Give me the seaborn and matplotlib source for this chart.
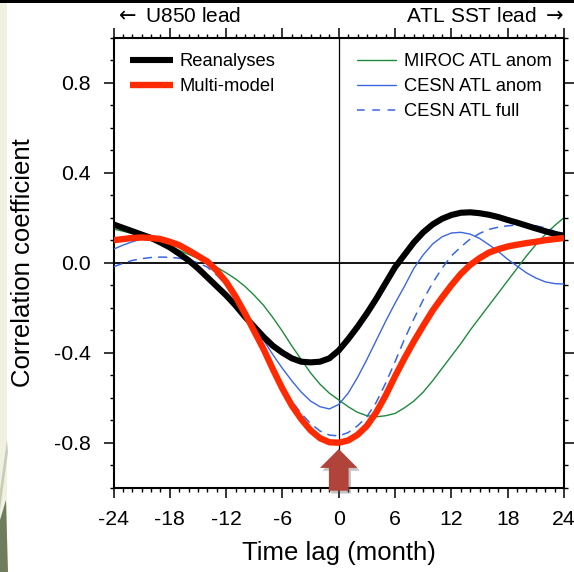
import matplotlib
matplotlib.use("Agg")
import matplotlib.pyplot as plt
import seaborn as sns
import pandas as pd
from matplotlib.ticker import MultipleLocator
from matplotlib.lines import Line2D
from matplotlib.patches import FancyArrow, Rectangle, Polygon

# ---------------- data ----------------
lags = list(range(-24, 25))

reanalyses = [0.17, 0.155, 0.14, 0.125, 0.11, 0.09, 0.068, 0.04, 0.01, -0.025,
              -0.065, -0.105, -0.145, -0.19, -0.24, -0.285, -0.33, -0.37, -0.40, -0.425,
              -0.44, -0.443, -0.44, -0.425, -0.39, -0.34, -0.285, -0.225, -0.16, -0.09,
              -0.02, 0.035, 0.09, 0.135, 0.17, 0.195, 0.212, 0.222, 0.224, 0.22,
              0.213, 0.203, 0.19, 0.178, 0.165, 0.152, 0.14, 0.128, 0.12]

multi_model = [0.10, 0.105, 0.11, 0.112, 0.11, 0.105, 0.093, 0.078, 0.055, 0.03,
               0.005, -0.035, -0.085, -0.15, -0.225, -0.305, -0.385, -0.475, -0.56, -0.635,
               -0.695, -0.745, -0.78, -0.798, -0.80, -0.79, -0.765, -0.725, -0.665, -0.59,
               -0.505, -0.425, -0.35, -0.28, -0.213, -0.155, -0.10, -0.05, -0.01, 0.02,
               0.045, 0.06, 0.072, 0.08, 0.087, 0.093, 0.10, 0.105, 0.11]

miroc_anom = [0.15, 0.14, 0.13, 0.118, 0.105, 0.09, 0.072, 0.055, 0.037, 0.02,
              0.003, -0.02, -0.045, -0.072, -0.105, -0.145, -0.19, -0.245, -0.305, -0.37,
              -0.43, -0.49, -0.54, -0.58, -0.61, -0.64, -0.665, -0.68, -0.685, -0.68,
              -0.67, -0.645, -0.615, -0.575, -0.525, -0.47, -0.415, -0.36, -0.30, -0.245,
              -0.19, -0.135, -0.08, -0.025, 0.03, 0.08, 0.125, 0.165, 0.20]

cesn_anom = [0.06, 0.078, 0.093, 0.105, 0.11, 0.108, 0.10, 0.085, 0.065, 0.04,
             0.01, -0.03, -0.085, -0.145, -0.21, -0.28, -0.345, -0.41, -0.47, -0.525,
             -0.575, -0.615, -0.64, -0.65, -0.63, -0.58, -0.51, -0.43, -0.345, -0.26,
             -0.18, -0.105, -0.025, 0.035, 0.083, 0.115, 0.132, 0.135, 0.127, 0.108,
             0.08, 0.05, 0.015, -0.015, -0.045, -0.068, -0.085, -0.093, -0.095]

cesn_full = [-0.018, -0.003, 0.01, 0.018, 0.023, 0.025, 0.024, 0.02, 0.012, 0.0,
             -0.02, -0.055, -0.10, -0.155, -0.225, -0.30, -0.38, -0.465, -0.545, -0.615,
             -0.67, -0.715, -0.748, -0.766, -0.77, -0.755, -0.725, -0.685, -0.62, -0.535,
             -0.44, -0.34, -0.25, -0.165, -0.09, -0.025, 0.03, 0.07, 0.105, 0.13,
             0.148, 0.158, 0.164, 0.167, 0.167, 0.164, 0.155, 0.14, 0.12]

series_names = ["Reanalyses", "Multi-model", "MIROC ATL anom", "CESN ATL anom", "CESN ATL full"]
x_ticks = [-24, -18, -12, -6, 0, 6, 12, 18, 24]
y_ticks = [-0.8, -0.4, 0.0, 0.4, 0.8]
y_tick_labels = ["-0.8", "-0.4", "0.0", "0.4", "0.8"]

# ---------------- style ----------------
sns.set_theme(style="ticks")
plt.rcParams["font.family"] = ["Liberation Sans", "DejaVu Sans"]
plt.rcParams["mathtext.fontset"] = "dejavusans"
plt.rcParams["text.color"] = "black"
plt.rcParams["axes.labelcolor"] = "black"
plt.rcParams["xtick.color"] = "black"
plt.rcParams["ytick.color"] = "black"

fig = plt.figure(figsize=(5.74, 5.72), dpi=100)
fig.patch.set_facecolor("white")

W, H = 574.0, 572.0
x0, x1, y0, y1 = 113.5, 564.0, 37.7, 487.7
ax = fig.add_axes([x0 / W, 1 - y1 / H, (x1 - x0) / W, (y1 - y0) / H])
ax.set_facecolor("white")

# background decorations of the slide
fig.add_artist(Rectangle((0, 0), 7 / W, 1 - 3 / H, transform=fig.transFigure,
                         facecolor="#f1f1e2", edgecolor="none", zorder=0))
fig.add_artist(Polygon([(0, 1 - 490 / H), (7 / W, 1 - 440 / H), (8 / W, 1 - 452 / H),
                        (0, 1 - 510 / H)], closed=True, transform=fig.transFigure,
                       facecolor="#c9cdb8", edgecolor="none", zorder=0))
fig.add_artist(Polygon([(0, 0), (0, 1 - 520 / H), (6 / W, 1 - 500 / H), (8 / W, 0)],
                       closed=True, transform=fig.transFigure,
                       facecolor="#6f7d5c", edgecolor="none", zorder=0))
fig.add_artist(Rectangle((0, 1 - 3 / H), 1, 3 / H, transform=fig.transFigure,
                         facecolor="black", edgecolor="none", zorder=5))

# zero lines
ax.axhline(0, color="black", lw=1.3, zorder=1)
ax.axvline(0, color="black", lw=0.9, zorder=1)

styles = {
    "MIROC ATL anom": dict(color="#1f8a3c", lw=1.0, dashes=None, z=2),
    "CESN ATL anom": dict(color="#3a66e0", lw=1.0, dashes=None, z=3),
    "CESN ATL full": dict(color="#3a66e0", lw=1.1, dashes=(6, 4), z=3),
    "Reanalyses": dict(color="black", lw=4.4, dashes=None, z=4),
    "Multi-model": dict(color="#ff2a00", lw=4.6, dashes=None, z=5),
}
values = {
    "Reanalyses": reanalyses,
    "Multi-model": multi_model,
    "MIROC ATL anom": miroc_anom,
    "CESN ATL anom": cesn_anom,
    "CESN ATL full": cesn_full,
}
for name in ["MIROC ATL anom", "CESN ATL anom", "CESN ATL full", "Reanalyses", "Multi-model"]:
    st = styles[name]
    df = pd.DataFrame({"lag": lags, "r": values[name]})
    sns.lineplot(data=df, x="lag", y="r", ax=ax, color=st["color"], lw=st["lw"],
                 zorder=st["z"], legend=False, solid_capstyle="butt")
    if st["dashes"] is not None:
        ax.lines[-1].set_dashes(st["dashes"])

ax.set_xlim(-24, 24)
ax.set_ylim(-1.0, 1.0)
ax.set_xticks(x_ticks)
ax.set_xticklabels([str(t) for t in x_ticks])
ax.set_yticks(y_ticks)
ax.set_yticklabels(y_tick_labels)
ax.xaxis.set_minor_locator(MultipleLocator(1))
ax.yaxis.set_minor_locator(MultipleLocator(0.1))
ax.tick_params(which="both", direction="out", top=True, right=True, bottom=True, left=True,
               labeltop=False, labelright=False, labelsize=15.3)
ax.tick_params(which="major", length=7.2, width=1.1)
ax.tick_params(axis="y", which="major", pad=9)
ax.tick_params(axis="x", which="major", pad=8.5)
ax.tick_params(which="minor", length=3.2, width=1.0)
for sp in ax.spines.values():
    sp.set_visible(True)
    sp.set_color("black")
    sp.set_linewidth(1.5)

ax.set_xlabel("Time lag (month)", fontsize=18.5, va="center")
ax.set_ylabel("Correlation coefficient", fontsize=18.5, va="center")
ax.xaxis.set_label_coords(0.5, -(553 - y1) / (y1 - y0))
ax.yaxis.set_label_coords((23 - x0) / (x1 - x0), 0.5)

# top annotations
ax.text(0.0, (y1 - 17) / (y1 - y0), r"$\leftarrow$ U850 lead", transform=ax.transAxes,
        ha="left", va="center", fontsize=15)
ax.text(1.0, (y1 - 17) / (y1 - y0), r"ATL SST lead $\rightarrow$", transform=ax.transAxes,
        ha="right", va="center", fontsize=15)

# legends
h1 = [Line2D([], [], color=styles[n]["color"], lw=styles[n]["lw"], solid_capstyle="butt")
      for n in series_names[:2]]
leg1 = ax.legend(h1, series_names[:2], loc="upper left",
                 bbox_to_anchor=((130 - x0) / (x1 - x0), (y1 - 53) / (y1 - y0)),
                 frameon=False, fontsize=13.2, borderpad=0, borderaxespad=0,
                 handlelength=2.35, handletextpad=0.35, labelspacing=0.45)
ax.add_artist(leg1)
h2 = []
for n in series_names[2:]:
    ln = Line2D([], [], color=styles[n]["color"], lw=styles[n]["lw"])
    if styles[n]["dashes"] is not None:
        ln.set_dashes((5, 5))
    h2.append(ln)
ax.legend(h2, series_names[2:], loc="upper left",
          bbox_to_anchor=((357 - x0) / (x1 - x0), (y1 - 53) / (y1 - y0)),
          frameon=False, fontsize=13.2, borderpad=0, borderaxespad=0,
          handlelength=2.1, handletextpad=0.45, labelspacing=0.45)

# red arrow pointing at lag 0
tr = ax.get_xaxis_transform()
shadow = FancyArrow(0.25, -0.013, 0, 0.0927, width=2.1, head_width=4.0, head_length=0.042,
                    length_includes_head=True, transform=tr, facecolor="#555555",
                    edgecolor="none", alpha=0.35, clip_on=False, zorder=9)
ax.add_patch(shadow)
arrow = FancyArrow(0, -0.0067, 0, 0.0927, width=2.1, head_width=4.0, head_length=0.042,
                   length_includes_head=True, transform=tr, facecolor="#b0443a",
                   edgecolor="none", clip_on=False, zorder=10)
ax.add_patch(arrow)

fig.savefig("out.png", dpi=100)
